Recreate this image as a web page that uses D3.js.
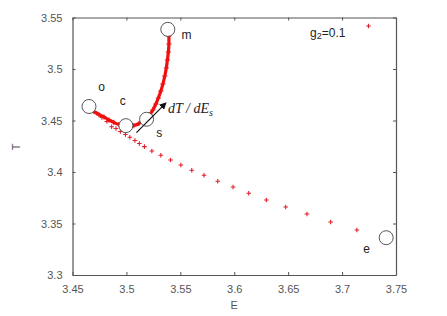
<!DOCTYPE html>
<html>
<head>
<meta charset="utf-8">
<script src="https://cdn.jsdelivr.net/npm/d3@7"></script>
<style>
  body { margin: 0; background: #fff; }
  svg text { font-family: "Liberation Sans", Arial, sans-serif; }
</style>
</head>
<body>
<svg id="chart" width="447" height="316"></svg>
<script>
// data
const denseE = [3.4653, 3.4699, 3.4745, 3.4792, 3.4838, 3.4884, 3.4931, 3.4977, 3.5023, 3.5069,
  3.5116, 3.5153, 3.5190, 3.5218, 3.5245, 3.5273, 3.5296, 3.5319, 3.5338, 3.5356,
  3.5370, 3.5380, 3.5389, 3.5394, 3.5394];
const denseT = [3.4636, 3.4587, 3.4558, 3.4534, 3.4505, 3.4481, 3.4461, 3.4451, 3.4447, 3.4451,
  3.4471, 3.4495, 3.4524, 3.4558, 3.4602, 3.4660, 3.4718, 3.4786, 3.4854, 3.4932,
  3.5010, 3.5087, 3.5165, 3.5243, 3.5320];

const lowE = [3.4727, 3.4773, 3.4819, 3.4863, 3.4903, 3.4944, 3.4991, 3.5032, 3.5079, 3.5120,
  3.5167, 3.5236, 3.5319, 3.5409, 3.5505, 3.5606, 3.5720, 3.5847, 3.5989, 3.6134,
  3.6298, 3.6477, 3.6674, 3.6894, 3.7137, 3.7245];
const lowT = [3.4568, 3.4529, 3.4490, 3.4440, 3.4422, 3.4393, 3.4364, 3.4337, 3.4306, 3.4277,
  3.4246, 3.4204, 3.4162, 3.4117, 3.4068, 3.4017, 3.3968, 3.3910, 3.3854, 3.3793,
  3.3728, 3.3660, 3.3592, 3.3515, 3.3437, 3.5417];

// marked states
const markNames = ['o', 'c', 's', 'm', 'e'];
const markE = [3.4653, 3.4995, 3.5187, 3.5384, 3.7409];
const markT = [3.4636, 3.4450, 3.4512, 3.5385, 3.3362];
const labelE = [3.4770, 3.4965, 3.5304, 3.5557, 3.7227];
const labelT = [3.4828, 3.4689, 3.4382, 3.5330, 3.3255];

const arrowE = [3.5093, 3.5363];
const arrowT = [3.4382, 3.4667];

const xTicks = [3.45, 3.5, 3.55, 3.6, 3.65, 3.7, 3.75];
const yTicks = [3.3, 3.35, 3.4, 3.45, 3.5, 3.55];

const W = 447, H = 316;
const margin = { top: 17.5, right: 51, bottom: 41, left: 72.5 };
const svg = d3.select('#chart');

const x = d3.scaleLinear().domain([3.45, 3.75]).range([margin.left, W - margin.right]);
const y = d3.scaleLinear().domain([3.3, 3.55]).range([H - margin.bottom, margin.top]);

const axisColor = '#555';
const fmt = d => String(+d.toFixed(2));

// axes (ticks point inward)
const gx = svg.append('g').attr('transform', `translate(0,${H - margin.bottom})`)
  .call(d3.axisBottom(x).tickValues(xTicks).tickFormat(fmt).tickSizeInner(-3).tickSizeOuter(0).tickPadding(10));
const gxTop = svg.append('g').attr('transform', `translate(0,${margin.top})`)
  .call(d3.axisTop(x).tickValues(xTicks).tickFormat('').tickSizeInner(-3).tickSizeOuter(0));
const gy = svg.append('g').attr('transform', `translate(${margin.left},0)`)
  .call(d3.axisLeft(y).tickValues(yTicks).tickFormat(fmt).tickSizeInner(-3).tickSizeOuter(0).tickPadding(10));
const gyR = svg.append('g').attr('transform', `translate(${W - margin.right},0)`)
  .call(d3.axisRight(y).tickValues(yTicks).tickFormat('').tickSizeInner(-3).tickSizeOuter(0));

[gx, gxTop, gy, gyR].forEach(g => {
  g.select('.domain').attr('stroke', axisColor).attr('stroke-width', 1.2);
  g.selectAll('.tick line').attr('stroke', axisColor);
  g.selectAll('.tick text').attr('fill', '#555').style('font-size', '11px')
    .style('font-family', '"Liberation Sans", Arial, sans-serif');
});

svg.append('text').attr('transform', 'translate(20,147) rotate(-90)')
  .attr('text-anchor', 'middle').attr('fill', '#555').style('font-size', '11px').text('T');
svg.append('text').attr('x', (margin.left + W - margin.right) / 2).attr('y', 309)
  .attr('text-anchor', 'middle').attr('fill', '#555').style('font-size', '11px').text('E');

// plus marker
const plus = (sel, s) => sel.attr('d', `M${-s},0H${s}M0,${-s}V${s}`);

// sparse branch
const low = lowE.map((e, i) => ({ e, t: lowT[i] }));
svg.append('g').selectAll('path').data(low).enter().append('path')
  .attr('transform', d => `translate(${x(d.e)},${y(d.t)})`)
  .call(plus, 2.3)
  .attr('stroke', '#e0202a').attr('stroke-width', 1.1).attr('fill', 'none');

// dense branch
const dense = denseE.map((e, i) => ({ e, t: denseT[i] }));
svg.append('path').datum(dense)
  .attr('d', d3.line().x(d => x(d.e)).y(d => y(d.t)).curve(d3.curveCatmullRom))
  .attr('fill', 'none').attr('stroke', '#f01010').attr('stroke-width', 3.2);
svg.append('g').selectAll('path').data(dense).enter().append('path')
  .attr('transform', d => `translate(${x(d.e)},${y(d.t)})`)
  .call(plus, 2.6)
  .attr('stroke', '#f01010').attr('stroke-width', 1.1).attr('fill', 'none');

// circles at marked states
const marks = markNames.map((n, i) => ({ n, e: markE[i], t: markT[i], le: labelE[i], lt: labelT[i] }));
svg.append('g').selectAll('circle').data(marks).enter().append('circle')
  .attr('cx', d => x(d.e)).attr('cy', d => y(d.t)).attr('r', 7)
  .attr('fill', '#fff').attr('stroke', '#555').attr('stroke-width', 1);
svg.append('g').selectAll('text').data(marks).enter().append('text')
  .attr('x', d => x(d.le)).attr('y', d => y(d.lt))
  .attr('text-anchor', 'middle').attr('dominant-baseline', 'central')
  .attr('fill', '#222').style('font-size', '12px').text(d => d.n);

// arrow (drawn over the circle)
svg.append('defs').append('marker').attr('id', 'ah')
  .attr('viewBox', '0 0 10 10').attr('refX', 8).attr('refY', 5)
  .attr('markerWidth', 6).attr('markerHeight', 6).attr('orient', 'auto')
  .append('path').attr('d', 'M0,0L10,5L0,10z').attr('fill', '#111');
svg.append('line')
  .attr('x1', x(arrowE[0])).attr('y1', y(arrowT[0]))
  .attr('x2', x(arrowE[1])).attr('y2', y(arrowT[1]))
  .attr('stroke', '#111').attr('stroke-width', 1.2).attr('marker-end', 'url(#ah)');

// dT/dE_s label
const dl = svg.append('text').attr('x', 168).attr('y', 113)
  .style('font-family', '"Liberation Serif", "DejaVu Serif", serif')
  .style('font-style', 'italic').style('font-size', '14px').attr('fill', '#222');
dl.append('tspan').text('dT / dE');
dl.append('tspan').attr('dy', 3).style('font-size', '10px').text('s');

// g2 label
const gl = svg.append('text').attr('x', 310).attr('y', 37).attr('fill', '#222').style('font-size', '12px');
gl.append('tspan').text('g');
gl.append('tspan').attr('dy', 2).style('font-size', '9px').text('2');
gl.append('tspan').attr('dy', -2).text('=0.1');
</script>
</body>
</html>
